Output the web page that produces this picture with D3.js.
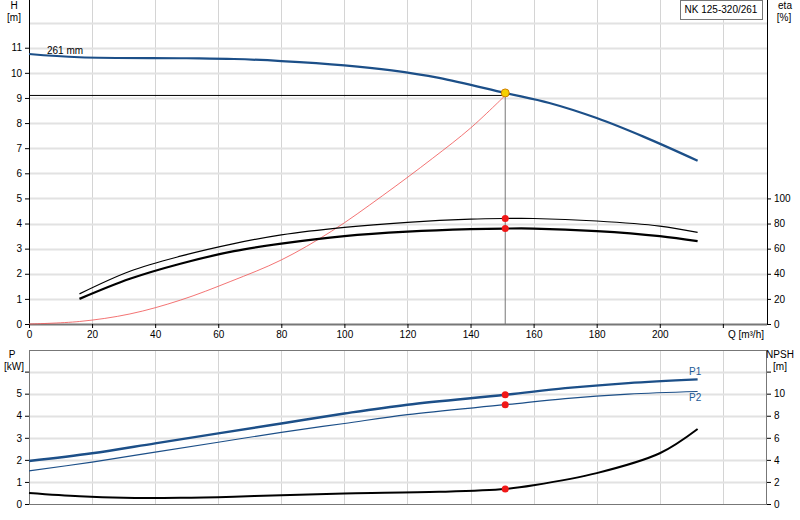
<!DOCTYPE html>
<html><head><meta charset="utf-8">
<script src="https://cdn.jsdelivr.net/npm/d3@7"></script>
<style>
body{margin:0;background:#fff;font-family:"Liberation Sans",Arial,sans-serif;}
text{font-size:10px;fill:#000;}
</style></head><body><svg id="c" width="800" height="520"></svg>
<script>
// head curve, Q in m3/h, H in m
const headQ = [0, 16, 50, 65, 80, 100, 115, 130, 151, 165, 180, 195, 212];
const headH = [10.75, 10.62, 10.58, 10.55, 10.47, 10.3, 10.1, 9.8, 9.2, 8.8, 8.2, 7.45, 6.5];
// efficiency curves, eta in %
const etaQ = [16, 32, 48, 65, 80, 100, 120, 140, 151, 160, 180, 200, 212];
const etaUpper = [24, 42, 54, 64, 71, 77, 81, 83.5, 84, 84, 82, 78, 73];
const etaLower = [20, 36, 48, 58, 64, 70, 73.5, 75.5, 76, 76, 74, 70, 66];
// system curve
const sysQ = [0, 16, 32, 48, 64, 80, 96, 112, 128, 140, 151];
const sysH = [0, 0.1, 0.4, 0.95, 1.7, 2.55, 3.7, 5.1, 6.6, 7.8, 9.1];
// power curves, kW
const pQ = [0, 20, 40, 60, 80, 100, 120, 151, 170, 190, 212];
const p1 = [1.95, 2.3, 2.75, 3.2, 3.65, 4.1, 4.5, 4.95, 5.25, 5.48, 5.65];
const p2 = [1.5, 1.9, 2.35, 2.8, 3.25, 3.65, 4.05, 4.5, 4.78, 4.98, 5.1];
// NPSH, m
const npshQ = [0, 16, 30, 48, 65, 80, 100, 130, 151, 160, 180, 200, 212];
const npsh = [1.0, 0.7, 0.56, 0.56, 0.66, 0.8, 0.96, 1.1, 1.36, 1.7, 2.8, 4.6, 6.8];
const dutyQ = 151, dutyH = 9.1;

const qTicks = d3.range(0, 220, 20);
const hTicks = d3.range(0, 12, 1);
const etaTicks = d3.range(0, 120, 20);
const pTicks = d3.range(0, 6, 1);
const npshTicks = d3.range(0, 12, 2);

const svg = d3.select("#c");
const x = d3.scaleLinear().domain([0, 234]).range([29, 767]);
const yH = d3.scaleLinear().domain([0, 12.9]).range([324, 0]);
const yEta = d3.scaleLinear().domain([0, 258]).range([324, 0]);
const yP = d3.scaleLinear().domain([0, 6.98]).range([504, 350]);
const yN = d3.scaleLinear().domain([0, 13.96]).range([504, 350]);

// grids
function grid(yScale, yTicks, top, bottom) {
  const g = svg.append("g");
  g.selectAll(".v").data(qTicks.slice(1).concat([220])).enter().append("line")
    .attr("x1", d => Math.round(x(d)) + .5).attr("x2", d => Math.round(x(d)) + .5)
    .attr("y1", top).attr("y2", bottom).attr("stroke", "#d4d4d4");
  g.selectAll(".h").data(yTicks).enter().append("line")
    .attr("x1", 29).attr("x2", 767)
    .attr("y1", d => Math.round(yScale(d)) + .5).attr("y2", d => Math.round(yScale(d)) + .5)
    .attr("stroke", "#e2e2e2").attr("stroke-width", 2);
}
grid(yH, d3.range(1, 13), 0, 324);
grid(yP, d3.range(1, 7), 350, 504);

// frames
svg.append("rect").attr("x", 29.5).attr("y", 350.5).attr("width", 737).attr("height", 154)
  .attr("fill", "none").attr("stroke", "#777");
svg.append("line").attr("x1", 29.5).attr("x2", 29.5).attr("y1", 0).attr("y2", 324).attr("stroke", "#000");
svg.append("line").attr("x1", 767.5).attr("x2", 767.5).attr("y1", 0).attr("y2", 324).attr("stroke", "#000");
svg.append("line").attr("x1", 29).attr("x2", 767).attr("y1", 324.5).attr("y2", 324.5).attr("stroke", "#777").attr("stroke-width", 2);

// axes
const ax = (g, a) => { g.call(a); g.select(".domain").remove(); g.selectAll("text").style("font-size", "10px"); };
svg.append("g").attr("transform", "translate(29,0)")
  .call(g => ax(g, d3.axisLeft(yH).tickValues(hTicks).tickSize(4).tickFormat(d3.format("d"))));
svg.append("g").attr("transform", "translate(767,0)")
  .call(g => ax(g, d3.axisRight(yEta).tickValues(etaTicks).tickSize(4)));
svg.append("g").attr("transform", "translate(0,324)")
  .call(g => ax(g, d3.axisBottom(x).tickValues(qTicks.concat([220])).tickSize(4).tickFormat(d => d === 220 ? "" : d)));
svg.append("g").attr("transform", "translate(29,0)")
  .call(g => ax(g, d3.axisLeft(yP).tickValues(pTicks.concat([6])).tickSize(4).tickFormat(d => d === 6 ? "" : d)));
svg.append("g").attr("transform", "translate(767,0)")
  .call(g => ax(g, d3.axisRight(yN).tickValues(npshTicks.concat([12])).tickSize(4).tickFormat(d => d === 12 ? "" : d)));

// labels
const lab = (t, xx, yy, anchor) => svg.append("text").attr("x", xx).attr("y", yy)
  .attr("text-anchor", anchor || "middle").text(t);
lab("H", 14, 9); lab("[m]", 14, 21);
lab("eta", 785, 9); lab("[%]", 784, 21);
lab("Q [m³/h]", 764, 338, "end");
lab("P", 12, 358); lab("[kW]", 14, 370);
lab("NPSH", 780, 358); lab("[m]", 780, 370);
lab("261 mm", 47, 54, "start");
svg.append("rect").attr("x", 680.5).attr("y", 0.5).attr("width", 82).attr("height", 19)
  .attr("fill", "#fff").attr("stroke", "#777");
lab("NK 125-320/261", 721, 13);
svg.append("text").attr("x", 689).attr("y", 375).style("fill", "#1c5a96").text("P1");
svg.append("text").attr("x", 689).attr("y", 401).style("fill", "#1c5a96").text("P2");

// duty lines
svg.append("line").attr("x1", 29).attr("x2", x(dutyQ)).attr("y1", yH(dutyH)).attr("y2", yH(dutyH)).attr("stroke", "#000");
svg.append("line").attr("x1", x(dutyQ)).attr("x2", x(dutyQ)).attr("y1", yH(dutyH)).attr("y2", 324).attr("stroke", "#777");

const line = (xs, ys, ys2) => d3.line().curve(d3.curveCatmullRom).x((d, i) => x(xs[i])).y((d, i) => ys2(d))(ys);
const path = (d, col, w) => svg.append("path").attr("d", d).attr("fill", "none").attr("stroke", col).attr("stroke-width", w);

path(line(sysQ, sysH, yH), "#f05050", 0.8);
path(line(headQ, headH, yH), "#1c4f88", 2.2);
path(line(etaQ, etaUpper, yEta), "#000", 1.2);
path(line(etaQ, etaLower, yEta), "#000", 2.2);
path(line(pQ, p1, yP), "#1c4f88", 2.4);
path(line(pQ, p2, yP), "#1c4f88", 1.2);
path(line(npshQ, npsh, yN), "#000", 2);

// duty points
const interp = (xs, ys) => d3.scaleLinear().domain(xs).range(ys)(dutyQ);
const dots = [[yEta(interp(etaQ, etaUpper))], [yEta(interp(etaQ, etaLower))],
  [yP(interp(pQ, p1))], [yP(interp(pQ, p2))], [yN(interp(npshQ, npsh))]];
svg.selectAll(".dot").data(dots).enter().append("circle")
  .attr("cx", x(dutyQ)).attr("cy", d => d[0]).attr("r", 3.5).attr("fill", "#f01818");
svg.append("circle").attr("cx", x(dutyQ)).attr("cy", yH(interp(headQ, headH))).attr("r", 4)
  .attr("fill", "#f5d000").attr("stroke", "#d08000");
</script></body></html>
